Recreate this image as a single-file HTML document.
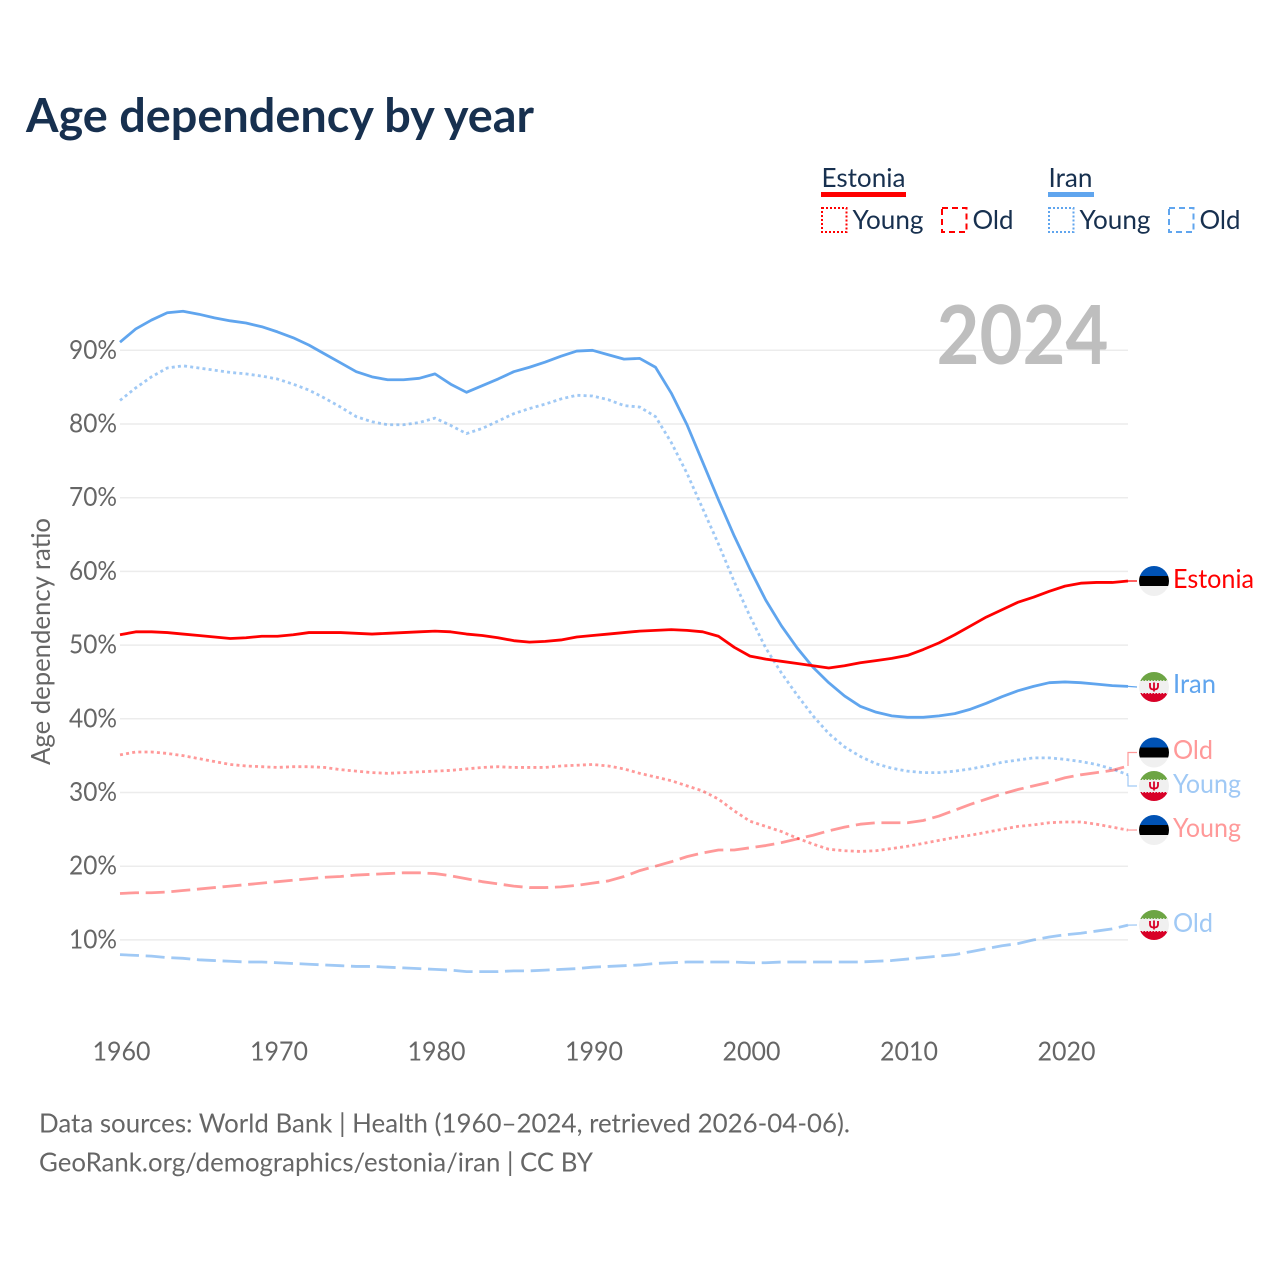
<!DOCTYPE html>
<html lang="en">
<head>
<meta charset="utf-8">
<title>Age dependency by year</title>
<style>
html,body{margin:0;padding:0;background:#fff;}
svg{display:block;}
text{font-family:"Lato","Carlito","Liberation Sans",sans-serif;}
</style>
</head>
<body>
<svg id="chart" xmlns="http://www.w3.org/2000/svg" width="1280" height="1280" viewBox="0 0 1280 1280">
  <rect x="0" y="0" width="1280" height="1280" fill="#ffffff"/>
  <text x="26" y="132" font-size="47" font-weight="700" fill="#17304f" textLength="508" lengthAdjust="spacingAndGlyphs">Age dependency by year</text>

  <g font-size="26" fill="#17304f">
    <g>
      <text x="821.500" y="187" textLength="84" lengthAdjust="spacingAndGlyphs">Estonia</text>
      <rect x="821" y="192" width="85" height="5" fill="#ff0000"/>
    </g>
    <g>
      <rect x="822" y="208" width="24.500" height="24" fill="none" stroke="#ff0000" stroke-width="2" stroke-dasharray="2 2"/>
      <text x="852.500" y="229" textLength="71" lengthAdjust="spacingAndGlyphs">Young</text>
    </g>
    <g>
      <rect x="942" y="208" width="24.500" height="24" fill="none" stroke="#ff0000" stroke-width="2" stroke-dasharray="6 4"/>
      <text x="972.500" y="229" textLength="41" lengthAdjust="spacingAndGlyphs">Old</text>
    </g>
    <g>
      <text x="1048.500" y="187" textLength="44" lengthAdjust="spacingAndGlyphs">Iran</text>
      <rect x="1048" y="192" width="46" height="5" fill="#60a5ee"/>
    </g>
    <g>
      <rect x="1049" y="208" width="24.500" height="24" fill="none" stroke="#60a5ee" stroke-width="2" stroke-dasharray="2 2"/>
      <text x="1079.500" y="229" textLength="71" lengthAdjust="spacingAndGlyphs">Young</text>
    </g>
    <g>
      <rect x="1169" y="208" width="24.500" height="24" fill="none" stroke="#60a5ee" stroke-width="2" stroke-dasharray="6 4"/>
      <text x="1199.500" y="229" textLength="41" lengthAdjust="spacingAndGlyphs">Old</text>
    </g>
  </g>

  <g id="grid"></g>
  <g id="yticks"></g>
  <g id="xticks"></g>
  <text x="0" y="0" transform="translate(50,765) rotate(-90)" font-size="26" fill="#666666" textLength="247" lengthAdjust="spacingAndGlyphs">Age dependency ratio</text>
  <text x="936.500" y="364" font-size="81" font-weight="700" fill="#bebebe" textLength="172" lengthAdjust="spacingAndGlyphs">2024</text>

  <g id="series"></g>
  <g id="connectors"></g>
  <g id="flags"></g>
  <g id="labels"></g>

  <g font-size="26" fill="#666666">
    <text x="39" y="1132.500" textLength="811" lengthAdjust="spacingAndGlyphs">Data sources: World Bank | Health (1960–2024, retrieved 2026-04-06).</text>
    <text x="39" y="1171.500" textLength="554" lengthAdjust="spacingAndGlyphs">GeoRank.org/demographics/estonia/iran | CC BY</text>
  </g>
</svg>
<script>
var startYear = 1960;
var xTickYears = [1960, 1970, 1980, 1990, 2000, 2010, 2020];
var yTickValues = [10, 20, 30, 40, 50, 60, 70, 80, 90];

var iranTotal = [91.1,92.9,94.1,95.1,95.3,94.9,94.4,94.0,93.7,93.2,92.5,91.7,90.7,89.5,88.3,87.1,86.4,86.0,86.0,86.2,86.8,85.4,84.3,85.2,86.1,87.1,87.7,88.4,89.2,89.9,90.0,89.4,88.8,88.9,87.7,84.2,79.9,74.8,69.7,64.8,60.3,56.1,52.6,49.6,47.0,44.9,43.1,41.7,40.9,40.4,40.2,40.2,40.4,40.7,41.3,42.1,43.0,43.8,44.4,44.9,45.0,44.9,44.7,44.5,44.4];
var iranYoung = [83.2,84.9,86.4,87.6,87.9,87.6,87.3,87.0,86.8,86.5,86.1,85.4,84.6,83.5,82.3,81.0,80.3,79.9,79.9,80.2,80.8,79.8,78.7,79.4,80.4,81.4,82.1,82.7,83.4,83.9,83.8,83.3,82.5,82.3,81.0,77.5,73.3,68.5,63.7,58.6,53.9,49.6,46.2,43.2,40.4,38.0,36.2,34.9,33.9,33.3,32.9,32.7,32.7,32.9,33.2,33.6,34.1,34.4,34.7,34.7,34.5,34.2,33.8,33.2,32.4];
var iranOld = [8.0,7.9,7.8,7.6,7.5,7.3,7.2,7.1,7.0,7.0,6.9,6.8,6.7,6.6,6.5,6.4,6.4,6.3,6.2,6.1,6.0,5.9,5.7,5.7,5.7,5.8,5.8,5.9,6.0,6.1,6.3,6.4,6.5,6.6,6.8,6.9,7.0,7.0,7.0,7.0,6.9,6.9,7.0,7.0,7.0,7.0,7.0,7.0,7.1,7.2,7.4,7.6,7.8,8.0,8.4,8.8,9.2,9.5,10.0,10.4,10.7,10.9,11.2,11.5,12.0];
var estoniaTotal = [51.4,51.8,51.8,51.7,51.5,51.3,51.1,50.9,51.0,51.2,51.2,51.4,51.7,51.7,51.7,51.6,51.5,51.6,51.7,51.8,51.9,51.8,51.5,51.3,51.0,50.6,50.4,50.5,50.7,51.1,51.3,51.5,51.7,51.9,52.0,52.1,52.0,51.8,51.2,49.7,48.5,48.1,47.8,47.5,47.2,46.9,47.2,47.6,47.9,48.2,48.6,49.4,50.3,51.4,52.6,53.8,54.8,55.8,56.5,57.3,58.0,58.4,58.5,58.5,58.7];
var estoniaYoung = [35.1,35.5,35.5,35.3,35.0,34.6,34.2,33.8,33.6,33.5,33.4,33.5,33.5,33.4,33.1,32.9,32.7,32.6,32.7,32.8,32.9,33.0,33.2,33.4,33.5,33.4,33.4,33.4,33.6,33.7,33.8,33.6,33.2,32.6,32.1,31.6,30.9,30.2,29.1,27.5,26.1,25.4,24.7,23.8,23.0,22.3,22.1,22.0,22.1,22.4,22.7,23.1,23.5,23.9,24.2,24.6,25.0,25.4,25.6,25.9,26.0,26.0,25.7,25.3,24.9];
var estoniaOld = [16.3,16.4,16.4,16.5,16.7,16.9,17.1,17.3,17.5,17.7,17.9,18.1,18.3,18.5,18.6,18.8,18.9,19.0,19.1,19.1,19.0,18.7,18.3,17.9,17.6,17.3,17.1,17.1,17.2,17.4,17.7,18.0,18.6,19.4,20.0,20.6,21.3,21.8,22.2,22.2,22.5,22.8,23.2,23.7,24.2,24.8,25.3,25.7,25.9,25.9,25.9,26.2,26.8,27.6,28.4,29.1,29.8,30.4,30.9,31.4,32.0,32.4,32.7,33.0,33.6];

var NS = 'http://www.w3.org/2000/svg';
function xScale(year) { return 120 + (year - 1960) * 15.75; }
function yScale(v) { return 1013.6 - v * 7.37; }
function make(tag, attrs, parent) {
  var el = document.createElementNS(NS, tag);
  for (var k in attrs) el.setAttribute(k, attrs[k]);
  parent.appendChild(el);
  return el;
}
function pointsOf(values) {
  return values.map(function (v, i) {
    return xScale(startYear + i).toFixed(2) + ',' + yScale(v).toFixed(2);
  }).join(' ');
}

var grid = document.getElementById('grid');
var yticks = document.getElementById('yticks');
var xticks = document.getElementById('xticks');
var seriesLayer = document.getElementById('series');
var connectors = document.getElementById('connectors');
var flags = document.getElementById('flags');
var labels = document.getElementById('labels');

yTickValues.forEach(function (v) {
  var line = make('line', { x1: 120, x2: 1128, y1: yScale(v), y2: yScale(v), stroke: '#ececec', 'stroke-width': 1.5 }, grid);
  
  
  var t = make('text', { x: 117, y: yScale(v) + 8.5, 'text-anchor': 'end', 'font-size': 26, fill: '#666666', textLength: 48, lengthAdjust: 'spacingAndGlyphs' }, yticks);
  
  
  t.textContent = v + '%';
});

xTickYears.forEach(function (yr) {
  var t = make('text', { x: xScale(yr) + 1.5, y: 1060.5, 'text-anchor': 'middle', 'font-size': 26, fill: '#666666', textLength: 58, lengthAdjust: 'spacingAndGlyphs' }, xticks);
  
  
  t.textContent = yr;
});

function drawLine(values, color, opacity, dash, name) {
  var p = make('polyline', { points: pointsOf(values), fill: 'none', stroke: color, 'stroke-width': 2.8, 'stroke-opacity': opacity, 'stroke-linejoin': 'round' }, seriesLayer);
  if (dash) p.setAttribute('stroke-dasharray', dash);
  
  
  return p;
}
drawLine(iranYoung, '#60a5ee', 0.6, '3 3.2', 'line-iran-young');
drawLine(iranOld, '#60a5ee', 0.6, '19 6.7', 'line-iran-old');
drawLine(estoniaYoung, '#ff0000', 0.4, '3 3.2', 'line-estonia-young');
drawLine(estoniaOld, '#ff0000', 0.4, '19 6.7', 'line-estonia-old');
drawLine(iranTotal, '#60a5ee', 1, null, 'line-iran-total');
drawLine(estoniaTotal, '#ff0000', 1, null, 'line-estonia-total');

function estoniaFlag(cy, name) {
  var g = make('g', {}, flags);
  
  
  var id = name + '-clip';
  var cp = make('clipPath', { id: id }, g);
  make('circle', { cx: 1154, cy: cy, r: 15 }, cp);
  var inner = make('g', { 'clip-path': 'url(#' + id + ')' }, g);
  make('rect', { x: 1139, y: cy - 15, width: 30, height: 10, fill: '#0052b4' }, inner);
  make('rect', { x: 1139, y: cy - 5, width: 30, height: 10, fill: '#000000' }, inner);
  make('rect', { x: 1139, y: cy + 5, width: 30, height: 10, fill: '#f0f0f0' }, inner);
}
function iranFlag(cy, name) {
  var g = make('g', {}, flags);
  
  
  var id = name + '-clip';
  var cp = make('clipPath', { id: id }, g);
  make('circle', { cx: 1154, cy: cy, r: 15 }, cp);
  var inner = make('g', { 'clip-path': 'url(#' + id + ')' }, g);
  make('rect', { x: 1139, y: cy - 15, width: 30, height: 30, fill: '#f0f0f0' }, inner);
  make('rect', { x: 1139, y: cy - 15, width: 30, height: 9, fill: '#6da544' }, inner);
  make('rect', { x: 1139, y: cy + 6, width: 30, height: 9, fill: '#d80027' }, inner);
  make('line', { x1: 1139, x2: 1169, y1: cy - 6, y2: cy - 6, stroke: '#f0f0f0', 'stroke-width': 1.5, 'stroke-dasharray': '1.5 1.5' }, inner);
  make('line', { x1: 1139, x2: 1169, y1: cy + 6, y2: cy + 6, stroke: '#f0f0f0', 'stroke-width': 1.5, 'stroke-dasharray': '1.5 1.5' }, inner);
  make('path', { d: 'M' + (1150) + ' ' + (cy - 4) + 'v3.500q0 3 4 3q4 0 4-3v-3.500M1154 ' + (cy - 4.500) + 'v9', fill: 'none', stroke: '#d80027', 'stroke-width': 1.800 }, inner);
}
function endLabel(text, baseline, color, len, name) {
  var t = make('text', { x: 1173, y: baseline, 'font-size': 26, fill: color, textLength: len, lengthAdjust: 'spacingAndGlyphs' }, labels);
  
  
  t.textContent = text;
}
function connector(values, cy, color, opacity, name) {
  var last = yScale(values[values.length - 1]);
  var d = Math.abs(last - cy) > 4
    ? 'M1128 ' + last + 'V' + cy + 'H1137'
    : 'M1128 ' + last + 'L1137 ' + cy;
  var p = make('path', { d: d, fill: 'none', stroke: color, 'stroke-opacity': opacity, 'stroke-width': 1.2 }, connectors);
  
  
}

connector(estoniaTotal, 581, '#ff0000', 1, 'connector-estonia-total');
connector(iranTotal, 687, '#60a5ee', 1, 'connector-iran-total');
connector(estoniaOld, 752.500, '#ff0000', 0.4, 'connector-estonia-old');
connector(iranYoung, 786, '#60a5ee', 0.6, 'connector-iran-young');
connector(estoniaYoung, 830, '#ff0000', 0.4, 'connector-estonia-young');
connector(iranOld, 925, '#60a5ee', 0.6, 'connector-iran-old');

estoniaFlag(581, 'flag-estonia-total');
iranFlag(687, 'flag-iran-total');
estoniaFlag(752.500, 'flag-estonia-old');
iranFlag(786, 'flag-iran-young');
estoniaFlag(830, 'flag-estonia-young');
iranFlag(925, 'flag-iran-old');

endLabel('Estonia', 588, '#ff0000', 81, 'label-estonia-total');
endLabel('Iran', 693, '#60a5ee', 43, 'label-iran-total');
endLabel('Old', 759, '#ff9999', 40, 'label-estonia-old');
endLabel('Young', 793, '#a0c9f5', 68, 'label-iran-young');
endLabel('Young', 837, '#ff9999', 68, 'label-estonia-young');
endLabel('Old', 932, '#a0c9f5', 40, 'label-iran-old');
</script>
</body>
</html>
